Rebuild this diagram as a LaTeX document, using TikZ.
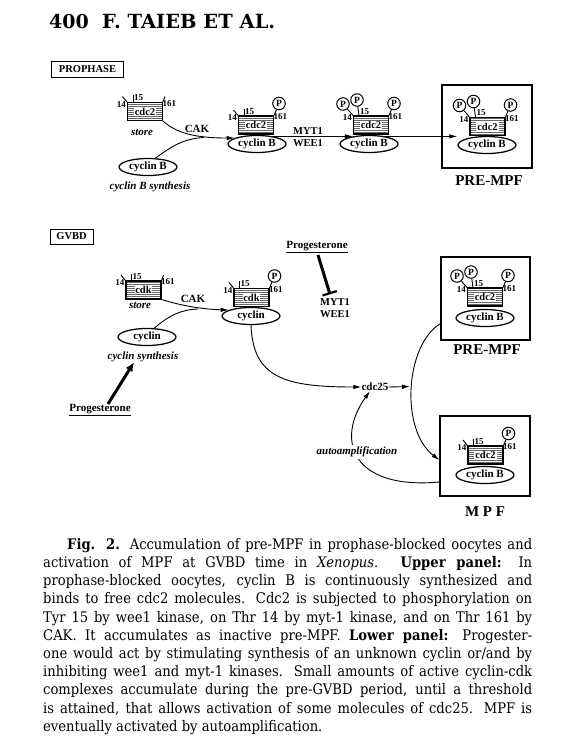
\documentclass[tikz,border=0pt]{standalone}
\usepackage{fontspec}
\setmainfont{Liberation Serif}
\newfontfamily\capfont{DejaVu Serif}
\newfontfamily\capnarrow[FakeStretch=0.9]{DejaVu Serif}
\usetikzlibrary{arrows.meta,patterns.meta,shapes.geometric}
\pgfdeclarehorizontalshading{tipgray}{100bp}{color(0bp)=(white); color(72bp)=(white); color(100bp)=(black!40)}
\tikzset{
 kbox/.style={draw, line width=1.1pt, minimum width=35pt, minimum height=18pt, inner sep=0pt, pattern={Lines[distance=2pt,line width=0.8pt]}, pattern color=black!60},
 klab/.style={fill=white, inner sep=0.8pt, font=\bfseries\fontsize{10.5}{11}\selectfont},
 cyc/.style={draw, ellipse, line width=1.25pt, minimum width=58pt, minimum height=17pt, inner sep=0pt, fill=white, font=\bfseries\fontsize{11}{12}\selectfont},
 cycs/.style={cyc, shading=tipgray},
 pcirc/.style={draw, circle, line width=1pt, minimum size=12.5pt, inner sep=0pt, fill=white, font=\bfseries\fontsize{9.5}{9.5}\selectfont},
 num/.style={inner sep=0pt, font=\bfseries\fontsize{9}{9}\selectfont},
 tick/.style={line width=0.9pt},
 lbl/.style={inner sep=0pt, font=\bfseries\fontsize{11}{12}\selectfont},
 ilbl/.style={inner sep=0pt, font=\bfseries\itshape\fontsize{11}{12}\selectfont},
 frame/.style={draw, line width=1.2pt, inner sep=0pt},
 big/.style={inner sep=0pt, font=\bfseries\fontsize{15}{16}\selectfont},
 arr/.style={line width=0.9pt, -{Latex[length=8pt,width=4.5pt]}},
 con/.style={line width=0.9pt},
 thickarr/.style={line width=3pt, -{Latex[length=9pt,width=8pt]}},
 inhib/.style={line width=3pt, -{Bar[width=15pt,line width=2.2pt]}},
}
\newcommand\cpx[7]{%
 \node[kbox] (#1) at (#2,#3) {};
 \node[klab] (#1-t) at (#2,#3) {#4};
 \ifnum#5=1
  \node[pcirc] (#1-pa) at ({#2-28},{#3-21}) {P};
 \else
  \coordinate (#1-pa) at ({#2-22.5},{#3-15});
 \fi
 \draw[tick] (#1.north west) -- (#1-pa);
 \ifnum#6=1
  \node[pcirc] (#1-pb) at ({#2-14},{#3-25}) {P};
 \else
  \coordinate (#1-pb) at ({#2-12},{#3-16.5});
 \fi
 \coordinate (#1-b) at ({#2-12},{#3-9});
 \draw[tick] (#1-b) -- (#1-pb);
 \ifnum#7=1
  \node[pcirc] (#1-pc) at ({#2+23},{#3-21.5}) {P};
 \else
  \coordinate (#1-pc) at ({#2+20},{#3-15});
 \fi
 \draw[tick] (#1.north east) -- (#1-pc);
 \node[num,anchor=east] (#1-na) at ({#2-19},{#3-7}) {14};
 \node[num,anchor=west] (#1-nb) at ({#2-11},{#3-13.5}) {15};
 \node[num,anchor=west] (#1-nc) at ({#2+17.5},{#3-8}) {161};
}
\newcommand\capline[1]{\makebox[489pt][s]{#1}\par}
\begin{document}
\begin{tikzpicture}[x=1pt,y=-1pt]
\useasboundingbox (0,0) rectangle (571,750);
\fill[white] (0,0) rectangle (571,750);

% header
\node[anchor=base west, inner sep=0, font=\capfont\bfseries\fontsize{19}{21}\selectfont] (pg) at (49,28) {400};
\node[anchor=base west, inner sep=0, font=\capfont\bfseries\fontsize{19.5}{21}\selectfont] (au) at (102,28) {F. TAIEB ET AL.};

% ================= PROPHASE panel
\node[frame, line width=1pt, minimum width=72pt, minimum height=16pt, font=\bfseries\fontsize{10.5}{11}\selectfont] (proph) at (87.5,69) {PROPHASE};

\cpx{t1}{145}{111.5}{cdc2}{0}{0}{0}
\node[ilbl] (tstore) at (142,132) {store};
\node[cyc] (tcyc) at (148,167) {cyclin B};
\node[ilbl] (tsyn) at (150,187) {cyclin B synthesis};

\cpx{t2}{256}{125}{cdc2}{0}{0}{1}
\node[cyc] (t2c) at (257,144) {cyclin B};

\cpx{t3}{371}{125}{cdc2}{1}{1}{1}
\node[cyc] (t3c) at (369,144) {cyclin B};

\node[frame, minimum width=90pt, minimum height=83pt] (pm1) at (487,126.5) {};
\cpx{p1}{487.5}{126.5}{cdc2}{1}{1}{1}
\node[cycs] (p1c) at (487,145) {cyclin B};
\node[big] (pm1l) at (489,181) {PRE-MPF};

\coordinate (tj) at (204,137.5);
\draw[arr] (t1.south east) .. controls (176,133) and (195,138) .. (t2c.165);
\draw[con] (tcyc.50) .. controls (172,146) and (184,138.5) .. (tj);
\node[lbl] (cak1) at (197,129) {CAK};

\draw[arr] (t2c.25) -- (t2c.25 -| t3.west);
\node[lbl, font=\bfseries\fontsize{10.5}{11}\selectfont] (myt1) at (308,131) {MYT1};
\node[lbl, font=\bfseries\fontsize{10.5}{11}\selectfont] (wee1) at (308,143) {WEE1};

\draw[arr] (t3c.25) -- (t3c.25 -| p1c.west);

% ================= GVBD panel
\node[frame, line width=1pt, minimum width=43pt, minimum height=15pt, font=\bfseries\fontsize{10.5}{11}\selectfont] (gvbd) at (71.5,236.5) {GVBD};

\cpx{g1}{143.5}{290}{cdk}{0}{0}{0}
\node[ilbl] (gstore) at (140,305) {store};
\node[cyc] (gcyc) at (147,337) {cyclin};
\node[ilbl] (gsyn) at (143,357) {cyclin synthesis};

\cpx{g2}{251.5}{297.5}{cdk}{0}{0}{1}
\node[cyc] (g2c) at (251,316) {cyclin};

\coordinate (gj) at (198,309);
\draw[arr] (g1.south east) .. controls (173,303) and (195,309) .. (g2c.165);
\draw[con] (gcyc.50) .. controls (168,316) and (181,309.5) .. (gj);
\node[lbl] (cak2) at (193,299) {CAK};

\node[lbl] (progB) at (100,410) {\underline{Progesterone}};
\draw[thickarr] ([xshift=8pt]progB.north) -- ([xshift=-9pt]gsyn.south);

\node[lbl] (progT) at (317,247) {\underline{Progesterone}};
\node[lbl, font=\bfseries\fontsize{10.5}{11}\selectfont] (myt2) at (335,302) {MYT1};
\node[lbl, font=\bfseries\fontsize{10.5}{11}\selectfont] (wee2) at (335,314) {WEE1};
\draw[inhib] ([xshift=1pt,yshift=-2pt]progT.south) -- ([xshift=-5pt,yshift=4pt]myt2.north);

\node[frame, minimum width=89pt, minimum height=83pt] (pm2) at (485.5,298.5) {};
\cpx{p2}{485}{297}{cdc2}{1}{1}{1}
\node[cycs] (p2c) at (485,318) {cyclin B};
\node[big] (pm2l) at (487,350) {PRE-MPF};

\node[frame, minimum width=90pt, minimum height=80pt] (mpf) at (485,456) {};
\cpx{m1}{485.5}{455}{cdc2}{0}{0}{1}
\node[cycs] (m1c) at (485,475) {cyclin B};
\node[big] (mpfl) at (485,512) {\makebox[40pt][s]{M\hfil P\hfil F}};

\node[lbl] (cdc25) at (375,387) {cdc25};
\draw[arr] (g2c.south) .. controls (253,378) and (285,387) .. (cdc25.west);

\coordinate (bj) at (411,386.5);
\draw[arr, shorten >=1pt] (cdc25.east) -- (bj);
\draw[arr] ([yshift=17pt]pm2.south west) .. controls (405,345) and (400,430) .. ([yshift=-4pt]mpf.west);

\draw[arr] ([yshift=-26pt]mpf.west) .. controls (352,490) and (335,440) .. ([xshift=-5pt]cdc25.south);
\node[ilbl, fill=white, inner sep=1.5pt] (auto) at (357,452) {autoamplification};

% ================= caption
\node[anchor=north west, inner sep=0, font=\capnarrow\fontsize{14.6}{18.2}\selectfont] (cap) at (43,538) {\parbox{489pt}{\capnarrow\fontsize{14.6}{18.2}\selectfont
\capline{\hspace*{24pt}\textbf{Fig. 2.} Accumulation of pre-MPF in prophase-blocked oocytes and}
\capline{activation of MPF at GVBD time in \textit{Xenopus}. \textbf{Upper panel:} In}
\capline{prophase-blocked oocytes, cyclin B is continuously synthesized and}
\capline{binds to free cdc2 molecules. Cdc2 is subjected to phosphorylation on}
\capline{Tyr 15 by wee1 kinase, on Thr 14 by myt-1 kinase, and on Thr 161 by}
\capline{CAK. It accumulates as inactive pre-MPF. \textbf{Lower panel:} Progester-}
\capline{one would act by stimulating synthesis of an unknown cyclin or/and by}
\capline{inhibiting wee1 and myt-1 kinases. Small amounts of active cyclin-cdk}
\capline{complexes accumulate during the pre-GVBD period, until a threshold}
\capline{is attained, that allows activation of some molecules of cdc25. MPF is}
\makebox[489pt][l]{eventually activated by autoamplification.}}};
\end{tikzpicture}
\end{document}
